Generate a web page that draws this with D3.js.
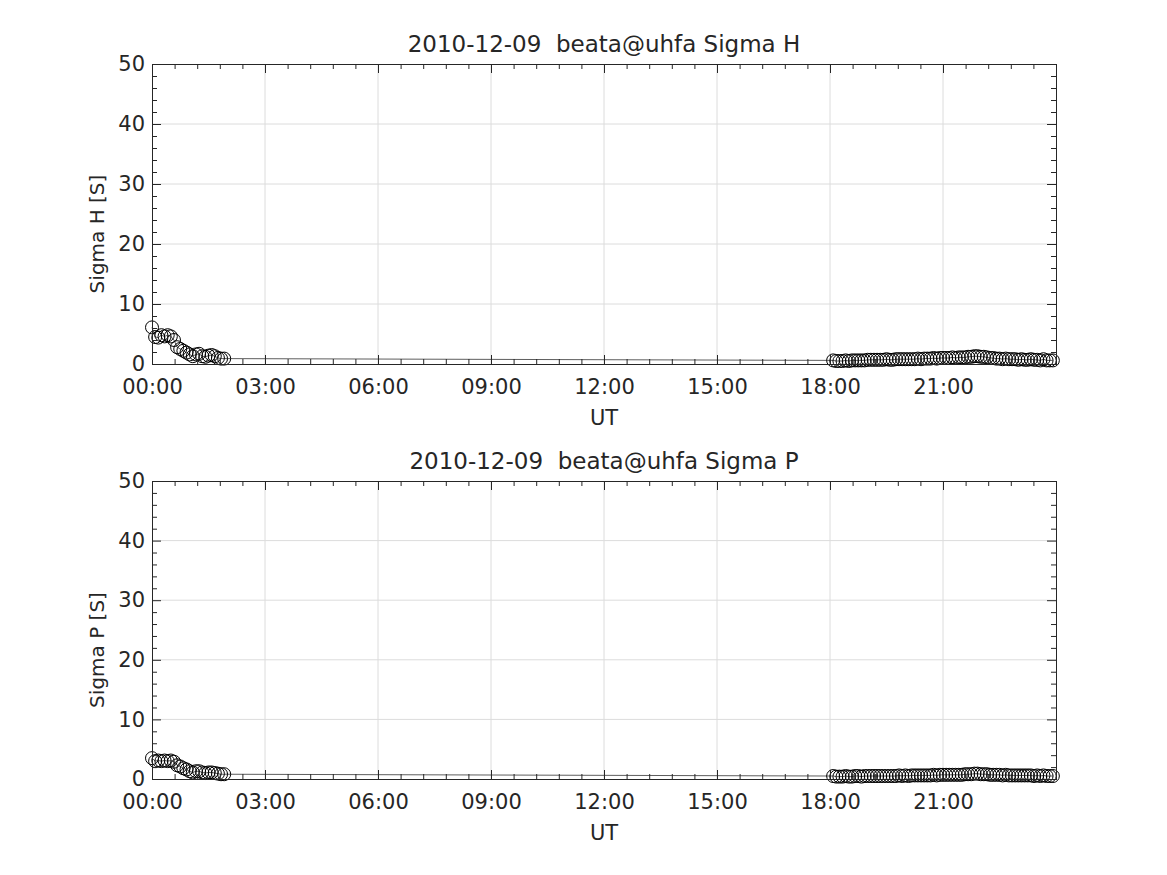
<!DOCTYPE html>
<html>
<head>
<meta charset="utf-8">
<script src="https://cdn.jsdelivr.net/npm/d3@7"></script>
<style>
  body { margin: 0; background: #fff; }
  text { font-family: "DejaVu Sans", sans-serif; fill: #262626; white-space: pre; }
</style>
</head>
<body>
<div id="container"></div>
<script>
// sample times, minutes after 00:00 UT
var minutesMorning = [0, 5, 10, 15, 20, 25, 30, 35, 40, 45, 50, 55, 60, 65, 70, 75, 80, 85, 90, 95, 100, 105, 110, 115];
var minutesEvening = [1085, 1090, 1095, 1100, 1105, 1110, 1115, 1120, 1125, 1130, 1135, 1140, 1145, 1150, 1155, 1160,
    1165, 1170, 1175, 1180, 1185, 1190, 1195, 1200, 1205, 1210, 1215, 1220, 1225, 1230, 1235, 1240, 1245, 1250,
    1255, 1260, 1265, 1270, 1275, 1280, 1285, 1290, 1295, 1300, 1305, 1310, 1315, 1320, 1325, 1330, 1335, 1340,
    1345, 1350, 1355, 1360, 1365, 1370, 1375, 1380, 1385, 1390, 1395, 1400, 1405, 1410, 1415, 1420, 1425, 1430, 1435];

// Sigma H [S]
var sigmaHMorning = [6.1, 4.5, 4.4, 4.8, 4.6, 4.8, 4.6, 4.0, 2.8, 2.5, 2.2, 1.9, 1.6, 1.3, 1.6, 1.7, 1.3, 1.2, 1.4, 1.5, 1.3, 1.0, 0.9, 0.9];
var sigmaHEvening = [0.6, 0.5, 0.5, 0.5, 0.6, 0.5, 0.6, 0.6, 0.6, 0.6, 0.6, 0.7, 0.7, 0.7, 0.7, 0.7,
    0.7, 0.8, 0.7, 0.7, 0.8, 0.8, 0.8, 0.8, 0.8, 0.8, 0.8, 0.9, 0.8, 0.9, 0.9, 0.9, 1.0, 0.9,
    1.0, 1.0, 1.0, 1.0, 1.1, 1.0, 1.1, 1.1, 1.1, 1.2, 1.2, 1.3, 1.3, 1.2, 1.2, 1.1, 1.0, 1.0,
    0.9, 0.9, 0.8, 0.9, 0.8, 0.8, 0.8, 0.7, 0.8, 0.7, 0.7, 0.8, 0.7, 0.7, 0.6, 0.8, 0.6, 0.6, 0.6];

// Sigma P [S]
var sigmaPMorning = [3.5, 3.0, 3.1, 3.0, 3.1, 3.0, 3.1, 2.9, 2.3, 2.1, 1.8, 1.6, 1.3, 1.1, 1.3, 1.3, 1.1, 1.0, 1.1, 1.1, 1.0, 0.9, 0.8, 0.8];
var sigmaPEvening = [0.5, 0.4, 0.4, 0.4, 0.5, 0.4, 0.4, 0.5, 0.5, 0.4, 0.5, 0.5, 0.5, 0.5, 0.5, 0.5,
    0.5, 0.5, 0.5, 0.5, 0.5, 0.6, 0.5, 0.6, 0.5, 0.6, 0.6, 0.6, 0.6, 0.6, 0.6, 0.6, 0.7, 0.6,
    0.7, 0.7, 0.7, 0.7, 0.7, 0.7, 0.7, 0.7, 0.8, 0.8, 0.8, 0.9, 0.9, 0.8, 0.8, 0.8, 0.7, 0.7,
    0.7, 0.7, 0.6, 0.7, 0.6, 0.6, 0.6, 0.6, 0.6, 0.6, 0.6, 0.6, 0.5, 0.6, 0.5, 0.6, 0.5, 0.5, 0.5];

var xTickHours = [0, 3, 6, 9, 12, 15, 18, 21];
var yTickValues = [0, 10, 20, 30, 40, 50];

var panels = [
    { title: "2010-12-09  beata@uhfa Sigma H", ylabel: "Sigma H [S]", top: 64, bottom: 364,
      morning: sigmaHMorning, evening: sigmaHEvening },
    { title: "2010-12-09  beata@uhfa Sigma P", ylabel: "Sigma P [S]", top: 481, bottom: 779,
      morning: sigmaPMorning, evening: sigmaPEvening }
];

var W = 1167, H = 875;
var left = 152, right = 1056;

var svg = d3.select("#container").append("svg")
    .attr("width", W)
    .attr("height", H);

var x = d3.scaleLinear().domain([0, 24]).range([left, right]);

function fmtHour(h)
{
    return (h < 10 ? "0" : "") + h + ":00";
}

function drawPanel(p)
{
    var y = d3.scaleLinear().domain([0, 50]).range([p.bottom, p.top]);
    var g = svg.append("g");

    // grid
    g.selectAll(".gx").data(xTickHours.slice(1)).enter().append("line")
        .attr("x1", d => x(d)).attr("x2", d => x(d))
        .attr("y1", p.top).attr("y2", p.bottom)
        .attr("stroke", "#dcdcdc").attr("stroke-width", 1);
    g.selectAll(".gy").data(yTickValues.slice(1, -1)).enter().append("line")
        .attr("x1", left).attr("x2", right)
        .attr("y1", d => y(d)).attr("y2", d => y(d))
        .attr("stroke", "#dcdcdc").attr("stroke-width", 1);

    // data
    var pts = [];
    minutesMorning.forEach((m, i) => pts.push([m / 60, p.morning[i]]));
    minutesEvening.forEach((m, i) => pts.push([m / 60, p.evening[i]]));

    var line = d3.line().x(d => x(d[0])).y(d => y(d[1]));
    g.append("path")
        .attr("d", line(pts))
        .attr("fill", "none")
        .attr("stroke", "#333")
        .attr("stroke-width", 0.8);

    g.selectAll("circle").data(pts).enter().append("circle")
        .attr("cx", d => x(d[0]))
        .attr("cy", d => y(d[1]))
        .attr("r", 6.5)
        .attr("fill", "none")
        .attr("stroke", "#000")
        .attr("stroke-width", 1);

    // axes, ticks inward, mirrored on top and right
    var minorX = d3.range(0, 24.001, 0.6).filter(v => Math.abs(v / 3 - Math.round(v / 3)) > 1e-6);
    var minorY = d3.range(0, 50.001, 2).filter(v => v % 10 !== 0);

    g.append("g").attr("transform", "translate(0," + p.bottom + ")")
        .call(d3.axisBottom(x).tickValues(xTickHours).tickFormat(fmtHour).tickSize(-9).tickPadding(15));
    g.append("g").attr("transform", "translate(0," + p.top + ")")
        .call(d3.axisTop(x).tickValues(xTickHours).tickFormat("").tickSize(-9));
    g.append("g").attr("transform", "translate(" + left + ",0)")
        .call(d3.axisLeft(y).tickValues(yTickValues).tickSize(-9).tickPadding(7));
    g.append("g").attr("transform", "translate(" + right + ",0)")
        .call(d3.axisRight(y).tickValues(yTickValues).tickFormat("").tickSize(-9));

    g.append("g").attr("transform", "translate(0," + p.bottom + ")")
        .call(d3.axisBottom(x).tickValues(minorX).tickFormat("").tickSize(-5));
    g.append("g").attr("transform", "translate(0," + p.top + ")")
        .call(d3.axisTop(x).tickValues(minorX).tickFormat("").tickSize(-5));
    g.append("g").attr("transform", "translate(" + left + ",0)")
        .call(d3.axisLeft(y).tickValues(minorY).tickFormat("").tickSize(-5));
    g.append("g").attr("transform", "translate(" + right + ",0)")
        .call(d3.axisRight(y).tickValues(minorY).tickFormat("").tickSize(-5));

    g.selectAll(".domain").attr("stroke", "#262626").attr("stroke-width", 1);
    g.selectAll(".tick line").attr("stroke", "#262626");
    g.selectAll(".tick text").attr("font-size", 21).attr("fill", "#262626")
        .style("font-family", "DejaVu Sans");

    // labels
    g.append("text")
        .attr("x", (left + right) / 2).attr("y", p.top - 12)
        .attr("text-anchor", "middle")
        .attr("font-size", 23)
        .text(p.title);
    g.append("text")
        .attr("x", (left + right) / 2).attr("y", p.bottom + 61)
        .attr("text-anchor", "middle")
        .attr("font-size", 21)
        .text("UT");
    g.append("text")
        .attr("transform", "translate(104," + ((p.top + p.bottom) / 2 + 20) + ") rotate(-90)")
        .attr("text-anchor", "middle")
        .attr("font-size", 20)
        .text(p.ylabel);
}

panels.forEach(drawPanel);
</script>
</body>
</html>
